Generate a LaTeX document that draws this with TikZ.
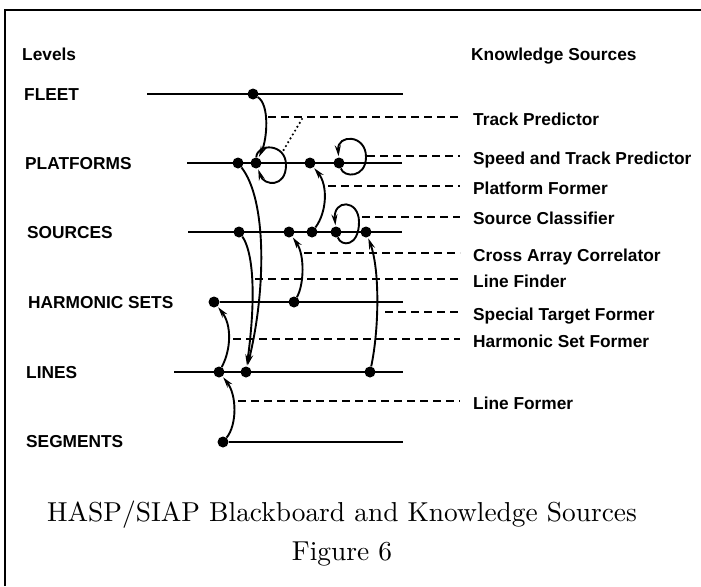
\documentclass[tikz,border=0pt]{standalone}
\usepackage{fontspec}
\newfontfamily\lblfont{Liberation Sans}
\newfontfamily\capfont{lmroman10-regular}[Extension=.otf]
\usetikzlibrary{arrows.meta}
\tikzset{
  dot/.style={circle,fill=black,inner sep=0pt,minimum size=11pt},
  levelline/.style={line width=2.1pt},
  ksline/.style={line width=2.1pt,dash pattern=on 8pt off 5pt},
  dotline/.style={line width=2.4pt,line cap=round,dash pattern=on 0pt off 4.5pt},
  flow/.style={line width=1.9pt,-{Stealth[length=11pt,width=6pt]},shorten >=1pt},
  lbl/.style={font=\lblfont\bfseries\fontsize{17.3}{20}\selectfont,inner sep=0pt,anchor=base west},
  captxt/.style={font=\capfont\fontsize{27.4}{32}\selectfont,inner sep=0pt,anchor=base},
}
\begin{document}
\begin{tikzpicture}[x=1pt,y=-1pt]
\useasboundingbox (0,0) rectangle (701,586);

% frame (top and left edges)
\coordinate (frameBL) at (5,586);
\coordinate (frameTL) at (5,10);
\coordinate (frameTR) at (701,10);
\draw[line width=2.2pt] (frameBL) -- (frameTL) -- (frameTR);

% headings
\node[lbl] (levels) at (22,60) {Levels};
\node[lbl] (kshead) at (471,60) {Knowledge Sources};

% level names
\node[lbl] (fleet) at (24,100) {FLEET};
\node[lbl] (platforms) at (25,169) {PLATFORMS};
\node[lbl] (sources) at (27,238) {SOURCES};
\node[lbl] (harmonic) at (28,308) {HARMONIC SETS};
\node[lbl] (lines) at (26,378) {LINES};
\node[lbl] (segments) at (26,447) {SEGMENTS};

% hypothesis elements on the blackboard
\node[dot] (f1) at (253,94) {};
\node[dot] (p1) at (238,163) {};
\node[dot] (p2) at (256,163) {};
\node[dot] (p3) at (310,163) {};
\node[dot] (p4) at (339,163) {};
\node[dot] (s1) at (239,232) {};
\node[dot] (s2) at (289,232) {};
\node[dot] (s3) at (312,232) {};
\node[dot] (s4) at (336,232) {};
\node[dot] (s5) at (366,232) {};
\node[dot] (h1) at (214,302) {};
\node[dot] (h2) at (294,302) {};
\node[dot] (l1) at (219,372) {};
\node[dot] (l2) at (246,372) {};
\node[dot] (l3) at (370,372) {};
\node[dot] (g1) at (223,442) {};

% level lines
\coordinate (fleetL) at (147,94);   \coordinate (fleetR) at (403,94);
\coordinate (platL) at (187,163);   \coordinate (platR) at (402,163);
\coordinate (srcL) at (188,232);    \coordinate (srcR) at (402,232);
\coordinate (harmR) at (403,302);
\coordinate (lineL) at (174,372);   \coordinate (lineR) at (403,372);
\coordinate (segR) at (403,442);
\draw[levelline] (fleetL) -- (fleetR);
\draw[levelline] (platL) -- (platR);
\draw[levelline] (srcL) -- (srcR);
\draw[levelline] (h1) -- (harmR);
\draw[levelline] (lineL) -- (lineR);
\draw[levelline] (g1) -- (segR);

% knowledge source labels
\node[lbl] (tp) at (473,125) {Track Predictor};
\node[lbl] (stp) at (473,164) {Speed and Track Predictor};
\node[lbl] (pf) at (473,194) {Platform Former};
\node[lbl] (sc) at (473,224) {Source Classifier};
\node[lbl] (cac) at (473,261) {Cross Array Correlator};
\node[lbl] (lf) at (473,287) {Line Finder};
\node[lbl] (stf) at (473,320) {Special Target Former};
\node[lbl] (hsf) at (473,347) {Harmonic Set Former};
\node[lbl] (lfo) at (473,409) {Line Former};

% dashed leaders to the knowledge sources
\coordinate (tpA) at (268,117);
\coordinate (stpA) at (367,156);
\coordinate (pfA) at (328,186);
\coordinate (scA) at (362,217);
\coordinate (cacA) at (304,253);
\coordinate (lfA) at (255,279);
\coordinate (stfA) at (385,312);
\coordinate (hsfA) at (233,339);
\coordinate (lfoA) at (238,401);
\foreach \a/\b in {tpA/tp,stpA/stp,pfA/pf,scA/sc,cacA/cac,lfA/lf,stfA/stf,hsfA/hsf,lfoA/lfo}
  \draw[ksline,shorten >=13pt] (\a) -- (\a -| \b.west);

% dotted link from the Track Predictor
\coordinate (tpDot) at (302,119);
\coordinate (loopTop) at (283,151);
\draw[dotline] (tpDot) -- (loopTop);

% actions of the knowledge sources
\draw[flow] (f1) .. controls (270,105) and (267,140) .. (p2);
\draw[flow] (p2) .. controls (257,143) and (286,143) .. (286,165) .. controls (286,188) and (264,186) .. (p2);
\draw[flow] (p4) .. controls (344,178) and (366,178) .. (366,157) .. controls (366,134) and (337,134) .. (p4);
\draw[flow] (s3) .. controls (327,212) and (328,185) .. (p3);
\draw[flow] (s4) .. controls (341,247) and (359,247) .. (359,222) .. controls (359,199) and (333,199) .. (s4);
\draw[flow] (p1) .. controls (267,200) and (266,290) .. (l2);
\draw[flow] (s1) .. controls (252,250) and (257,290) .. (l2);
\draw[flow] (h2) .. controls (304,285) and (305,255) .. (s2);
\draw[flow] (l3) .. controls (379,330) and (380,270) .. (s5);
\draw[flow] (l1) .. controls (231,350) and (232,325) .. (h1);
\draw[flow] (g1) .. controls (237,425) and (237,395) .. (l1);

% caption
\node[captxt] (title) at (342,521) {HASP/SIAP Blackboard and Knowledge Sources};
\node[captxt] (fignum) at (342,560) {Figure 6};
\end{tikzpicture}
\end{document}
